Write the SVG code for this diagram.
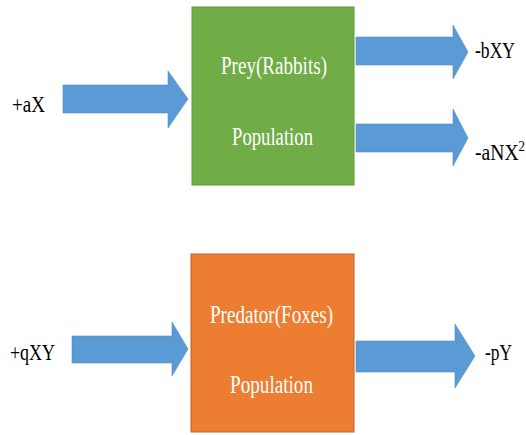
<svg xmlns="http://www.w3.org/2000/svg" width="526" height="435" viewBox="0 0 526 435">
<style>
.arrow{fill:#5B9BD5;stroke:#4F8CC4;stroke-width:0.6}
text{font-family:"Liberation Serif","Times New Roman",serif}
.lbl{font-size:23px;fill:#000}
.in{font-size:25px;fill:#fff}
</style>
<rect width="526" height="435" fill="#fff"/>
<g id="connectors">
<polygon class="arrow" points="63,85 168,85 168,71 188,99 168,128 168,113 63,113"/>
<polygon class="arrow" points="356,37 453,37 453,25 468,52 453,79 453,65 356,65"/>
<polygon class="arrow" points="356,124 453,124 453,109 468,138 453,166 453,152 356,152"/>
<polygon class="arrow" points="72,336 172,336 172,322 188,349 172,376 172,363 72,363"/>
<polygon class="arrow" points="356,341 455,341 455,324 475,356 455,388 455,372 356,372"/>
</g>
<g id="prey">
<rect x="192" y="7" width="162" height="178" fill="#70AD47" stroke="#5E9A3A" stroke-width="1"/>
<text class="in" x="221" y="74" textLength="106" lengthAdjust="spacingAndGlyphs">Prey(Rabbits)</text>
<text class="in" x="232" y="145" textLength="81" lengthAdjust="spacingAndGlyphs">Population</text>
</g>
<g id="predator">
<rect x="191" y="254" width="163" height="178" fill="#ED7D31" stroke="#B8622A" stroke-width="1"/>
<text class="in" x="210" y="323" textLength="123" lengthAdjust="spacingAndGlyphs">Predator(Foxes)</text>
<text class="in" x="230" y="393" textLength="83" lengthAdjust="spacingAndGlyphs">Population</text>
</g>
<g id="labels">
<text class="lbl" x="12" y="112" textLength="33" lengthAdjust="spacingAndGlyphs">+aX</text>
<text class="lbl" x="475" y="58" textLength="40" lengthAdjust="spacingAndGlyphs">-bXY</text>
<text class="lbl" x="475" y="160" textLength="50" lengthAdjust="spacingAndGlyphs">-aNX<tspan dy="-9" font-size="15">2</tspan></text>
<text class="lbl" x="10" y="360" textLength="45" lengthAdjust="spacingAndGlyphs">+qXY</text>
<text class="lbl" x="485" y="360" textLength="27" lengthAdjust="spacingAndGlyphs">-pY</text>
</g>
</svg>
